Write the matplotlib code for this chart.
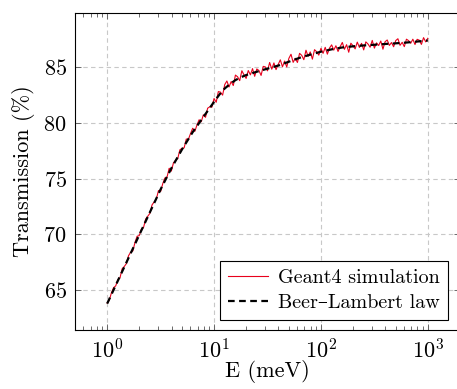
import numpy as np
import matplotlib
matplotlib.use("Agg")
import matplotlib.pyplot as plt
from matplotlib.ticker import LogLocator, NullFormatter

plt.rcParams['font.family'] = ['cmr10', 'DejaVu Serif']
plt.rcParams['mathtext.fontset'] = 'cm'
plt.rcParams['axes.formatter.use_mathtext'] = True

# Beer-Lambert law (smooth curve)
bl_energy = [1, 1.259, 1.585, 1.995, 2.512, 3.162, 3.981, 5.012, 6.310, 7.943,
             10, 11.22, 12.59, 14.13, 15.85, 17.78, 19.95, 25.12, 31.62, 39.81,
             50.12, 63.10, 79.43, 100, 125.9, 158.5, 199.5, 251.2, 316.2, 398.1,
             501.2, 631.0, 794.3, 1000]
bl_trans = [63.80, 65.85, 67.90, 69.95, 72.00, 74.05, 75.93, 77.63, 79.18, 80.54,
            81.90, 82.55, 83.10, 83.50, 83.85, 84.10, 84.30, 84.60, 84.88, 85.15,
            85.50, 85.85, 86.13, 86.40, 86.61, 86.78, 86.88, 86.96, 87.02, 87.09,
            87.15, 87.22, 87.31, 87.40]

# Geant4 simulation (log-spaced energies 1..1000 meV)
sim_energy = np.logspace(0, 3, 151)
sim_trans = [
    63.85, 64.11, 64.77, 65.23, 65.39, 65.95, 66.11, 66.92, 67.13, 67.39,
    68.10, 68.41, 68.52, 69.28, 69.84, 69.90, 70.46, 70.62, 71.38, 71.64,
    71.90, 72.66, 72.92, 73.18, 73.94, 73.85, 74.56, 75.07, 75.15, 75.94,
    75.68, 76.42, 76.66, 76.80, 77.59, 77.73, 77.77, 78.56, 78.54, 79.06,
    79.53, 79.25, 79.82, 80.29, 80.11, 80.74, 80.51, 81.33, 81.45, 81.43,
    82.20, 81.86, 82.82, 82.77, 82.50, 83.45, 83.77, 83.23, 83.72, 83.36,
    84.30, 84.15, 83.80, 84.69, 84.32, 84.00, 84.71, 84.32, 84.88, 84.19,
    84.85, 84.71, 84.27, 85.08, 85.03, 84.68, 85.43, 84.83, 85.39, 84.79,
    85.25, 85.67, 85.04, 85.56, 85.03, 85.80, 86.17, 85.44, 85.81, 85.43,
    86.25, 86.07, 85.68, 86.53, 85.98, 86.38, 85.73, 86.58, 86.39, 86.09,
    86.70, 86.25, 86.79, 86.18, 86.72, 87.01, 86.54, 86.93, 86.42, 86.85,
    87.23, 86.61, 87.03, 86.35, 87.16, 86.93, 86.65, 87.26, 86.78, 87.15,
    86.56, 87.28, 87.09, 86.80, 87.41, 86.72, 87.19, 86.95, 87.36, 86.62,
    87.29, 87.45, 86.96, 87.22, 86.84, 87.40, 87.56, 86.97, 87.24, 86.85,
    87.52, 87.39, 87.16, 87.52, 87.04, 87.51, 87.43, 87.05, 87.66, 87.28,
    87.60]

fig = plt.figure(figsize=(4.57, 3.89), dpi=100)
ax = fig.add_axes([75 / 457, 1 - 330 / 389, 385 / 457, 317 / 389])

ax.plot(sim_energy, sim_trans, color='#e8001c', lw=0.8, label='Geant4 simulation')
ax.plot(bl_energy, bl_trans, color='black', lw=1.6, dashes=(3, 2),
        label='Beer\u2013Lambert law')

ax.set_xscale('log')
ax.set_xlim(0.5, 2000)
ax.set_ylim(61.43, 89.87)
ax.set_yticks([65, 70, 75, 80, 85])
ax.xaxis.set_major_locator(LogLocator(base=10, numticks=10))
ax.xaxis.set_minor_locator(LogLocator(base=10, subs=np.arange(2, 10), numticks=20))
ax.xaxis.set_minor_formatter(NullFormatter())

ax.grid(True, which='major', color='#c8c8c8', ls=(0, (4, 3)), lw=0.8)
ax.tick_params(which='both', direction='in', top=True, right=True, labelsize=16,
               width=0.6, color='#555555')
ax.tick_params(which='major', length=4.5, pad=6)
ax.tick_params(which='minor', length=3)
for s in ax.spines.values():
    s.set_linewidth(0.8)

ax.set_xlabel('E (meV)', fontsize=16, labelpad=-2)
ax.set_ylabel('Transmission (%)', fontsize=16, labelpad=6)

leg = ax.legend(loc='lower right', bbox_to_anchor=(1 - 12 / 385, 10 / 317),
                borderaxespad=0, fontsize=14.5, fancybox=False, framealpha=1,
                edgecolor='black', handlelength=2.0, handletextpad=0.5,
                borderpad=0.4, labelspacing=0.35)
leg.get_frame().set_linewidth(0.8)

fig.savefig('out.png', dpi=100)
